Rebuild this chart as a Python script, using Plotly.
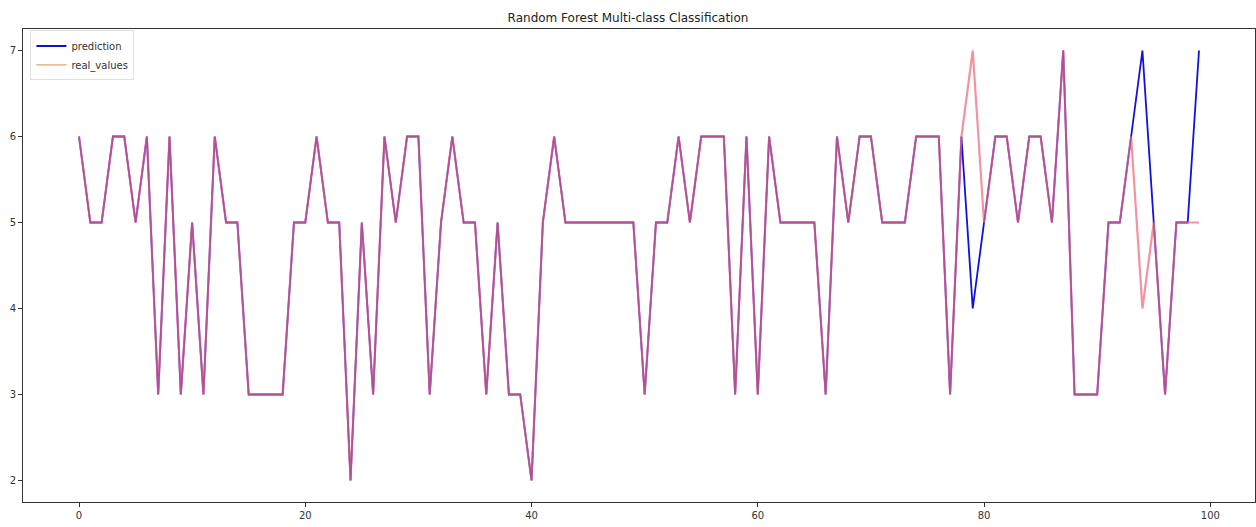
import plotly.graph_objects as go

# Sample index and the class labels for each sample
index = list(range(100))

prediction = [
    6, 5, 5, 6, 6, 5, 6, 3, 6, 3,
    5, 3, 6, 5, 5, 3, 3, 3, 3, 5,
    5, 6, 5, 5, 2, 5, 3, 6, 5, 6,
    6, 3, 5, 6, 5, 5, 3, 5, 3, 3,
    2, 5, 6, 5, 5, 5, 5, 5, 5, 5,
    3, 5, 5, 6, 5, 6, 6, 6, 3, 6,
    3, 6, 5, 5, 5, 5, 3, 6, 5, 6,
    6, 5, 5, 5, 6, 6, 6, 3, 6, 4,
    5, 6, 6, 5, 6, 6, 5, 7, 3, 3,
    3, 5, 5, 6, 7, 5, 3, 5, 5, 7,
]

real_values = [
    6, 5, 5, 6, 6, 5, 6, 3, 6, 3,
    5, 3, 6, 5, 5, 3, 3, 3, 3, 5,
    5, 6, 5, 5, 2, 5, 3, 6, 5, 6,
    6, 3, 5, 6, 5, 5, 3, 5, 3, 3,
    2, 5, 6, 5, 5, 5, 5, 5, 5, 5,
    3, 5, 5, 6, 5, 6, 6, 6, 3, 6,
    3, 6, 5, 5, 5, 5, 3, 6, 5, 6,
    6, 5, 5, 5, 6, 6, 6, 3, 6, 7,
    5, 6, 6, 5, 6, 6, 5, 7, 3, 3,
    3, 5, 5, 6, 4, 5, 3, 5, 5, 5,
]

y_ticks = [2, 3, 4, 5, 6, 7]
x_ticks = [0, 20, 40, 60, 80, 100]

fig = go.Figure()

fig.add_trace(go.Scatter(
    x=index, y=prediction, mode="lines", name="prediction",
    line=dict(color="#1010e0", width=1.8), showlegend=False,
))
fig.add_trace(go.Scatter(
    x=index, y=real_values, mode="lines", name="real_values",
    line=dict(color="rgba(238,105,125,0.72)", width=2.2), showlegend=False,
))

# Legend entries
fig.add_trace(go.Scatter(
    x=[None], y=[None], mode="lines", name="prediction",
    line=dict(color="#1010c8", width=2),
))
fig.add_trace(go.Scatter(
    x=[None], y=[None], mode="lines", name="real_values",
    line=dict(color="#e8a26a", width=1.2),
))

fig.update_layout(
    width=1256, height=527,
    margin=dict(l=23, r=1, t=29, b=25),
    paper_bgcolor="white", plot_bgcolor="white",
    font=dict(family="DejaVu Sans", size=10, color="#333333"),
    title=dict(
        text="Random Forest Multi-class Classification",
        x=0.5, xanchor="center", y=0.967, yanchor="middle",
        font=dict(size=12, color="#222222"),
    ),
    legend=dict(
        x=0.006, y=0.997, xanchor="left", yanchor="top",
        bgcolor="rgba(255,255,255,0.8)", bordercolor="#e0e0e0", borderwidth=1,
        font=dict(size=10),
        tracegroupgap=0,
    ),
    xaxis=dict(
        range=[-4.95, 103.95], tickvals=x_ticks, showgrid=False, zeroline=False,
        showline=True, linecolor="#333333", linewidth=1, mirror=True,
        ticks="outside", ticklen=4, tickcolor="#333333",
    ),
    yaxis=dict(
        range=[1.75, 7.25], tickvals=y_ticks, showgrid=False, zeroline=False,
        showline=True, linecolor="#333333", linewidth=1, mirror=True,
        ticks="outside", ticklen=4, tickcolor="#333333",
    ),
)

fig.write_html("out.html")
